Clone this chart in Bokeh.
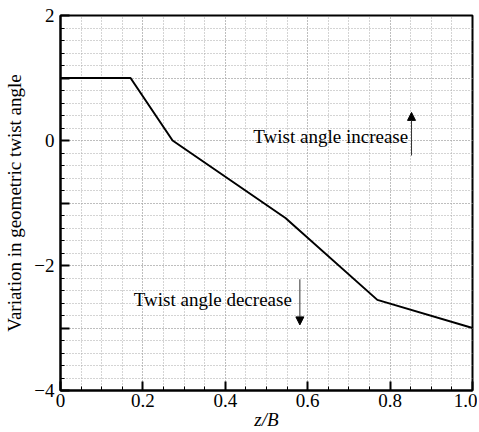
from bokeh.plotting import figure
from bokeh.models import (SingleIntervalTicker, Range1d, Arrow, NormalHead, ColumnDataSource)
from bokeh.core.properties import value
from bokeh.embed import file_html
from bokeh.resources import INLINE

# Data
z_over_B = [0.0, 0.17, 0.272, 0.546, 0.769, 1.0]
twist_variation = [1.0, 1.0, 0.0, -1.24, -2.55, -3.0]

x_tick_interval = 0.2
x_tick_labels = {0: "0", 0.2: "0.2", 0.4: "0.4", 0.6: "0.6", 0.8: "0.8", 1: "1.0"}
y_tick_labels = {-4: "\u22124", -2: "\u22122", 0: "0", 2: "2", 1: "", -1: "", -3: ""}

ann_texts = ["Twist angle increase", "Twist angle decrease"]
ann_x = [0.468, 0.178]
ann_y = [0.07, -2.55]

arrow_x = [0.852, 0.581]
arrow_y_start = [-0.24, -2.22]
arrow_y_end = [0.45, -2.95]

FONT = "Liberation Serif"

p = figure(width=477, height=432, output_backend="svg", toolbar_location=None,
           x_range=Range1d(0, 1), y_range=Range1d(-4, 2),
           min_border_left=60, min_border_top=15, min_border_right=5, min_border_bottom=5)
p.background_fill_color = "white"
p.border_fill_color = "white"
p.outline_line_color = "black"
p.outline_line_width = 2

p.xaxis.ticker = SingleIntervalTicker(interval=x_tick_interval, num_minor_ticks=4)
p.xaxis.major_label_overrides = x_tick_labels
p.yaxis.ticker = SingleIntervalTicker(interval=1, num_minor_ticks=5)
p.yaxis.major_label_overrides = y_tick_labels

for ax in (p.xaxis, p.yaxis):
    ax.axis_line_color = "black"
    ax.axis_line_width = 2
    ax.major_tick_in = 9
    ax.major_tick_out = 0
    ax.minor_tick_in = 4
    ax.minor_tick_out = 0
    ax.major_tick_line_color = "black"
    ax.major_tick_line_width = 2
    ax.minor_tick_line_color = "black"
    ax.minor_tick_line_width = 1
    ax.major_label_text_font = FONT
    ax.major_label_text_font_size = "19px"
    ax.major_label_text_color = "black"
    ax.axis_label_text_font = FONT
    ax.axis_label_text_font_size = "19px"
    ax.axis_label_text_color = "black"

p.xaxis.axis_label = "z/B"
p.xaxis.axis_label_text_font_style = "italic"
p.xaxis.major_label_standoff = 3
p.xaxis.axis_label_standoff = -1
p.yaxis.axis_label = "Variation in geometric twist angle"
p.yaxis.axis_label_text_font_style = "normal"
p.yaxis.major_label_standoff = 6
p.yaxis.axis_label_standoff = 6

for g in (p.xgrid, p.ygrid):
    g.grid_line_color = "#a8a8a8"
    g.grid_line_dash = "1 2"
    g.grid_line_width = 1
    g.minor_grid_line_color = "#a8a8a8"
    g.minor_grid_line_dash = "1 2"
    g.minor_grid_line_width = 1

p.line(z_over_B, twist_variation, line_color="black", line_width=2)

src = ColumnDataSource(dict(x=ann_x, y=ann_y, t=ann_texts))
p.text(x="x", y="y", text="t", source=src, text_font=value(FONT), text_font_size="19px",
       text_color="black", text_baseline="middle", text_align="left")

for xa, ys, ye in zip(arrow_x, arrow_y_start, arrow_y_end):
    p.add_layout(Arrow(end=NormalHead(size=8, fill_color="black", line_color="black", line_width=1),
                       x_start=xa, y_start=ys, x_end=xa, y_end=ye,
                       line_color="#333333", line_width=1))

open("out.html", "w").write(file_html(p, INLINE))
